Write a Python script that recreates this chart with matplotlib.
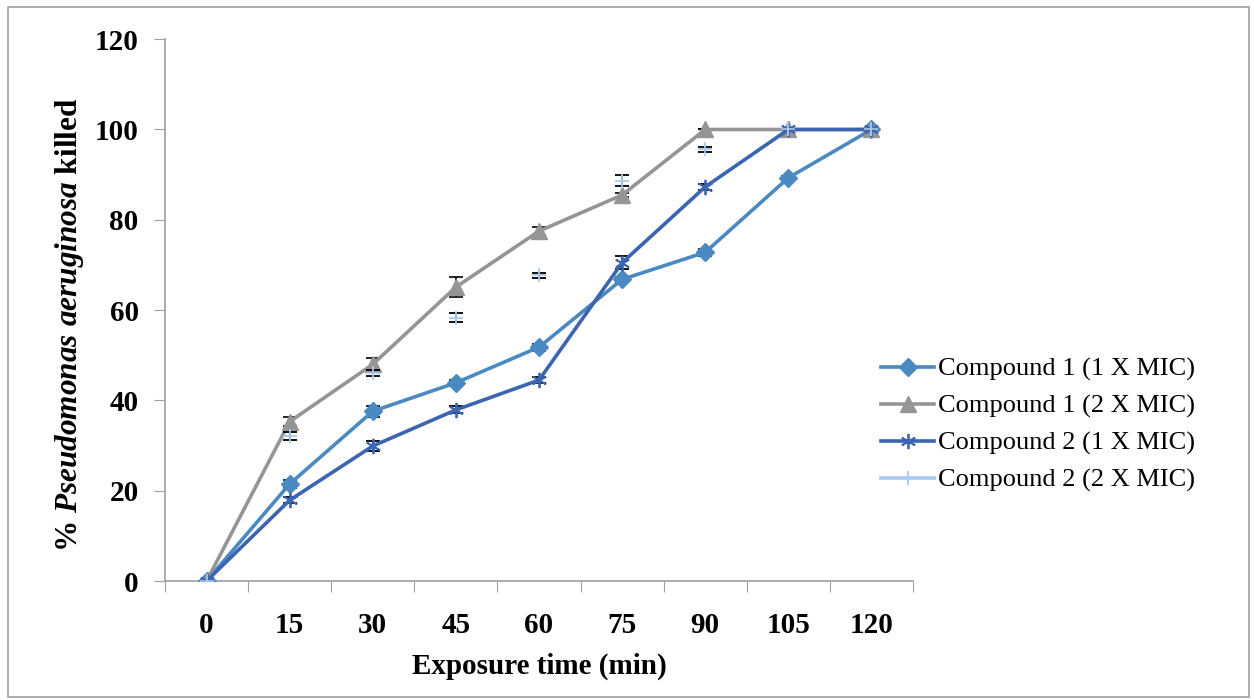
import matplotlib
matplotlib.use("Agg")
import matplotlib.pyplot as plt
from matplotlib.lines import Line2D
from matplotlib.patches import Rectangle
import numpy as np

plt.rcParams['font.family'] = ['Liberation Serif', 'DejaVu Serif']
plt.rcParams['mathtext.fontset'] = 'custom'
plt.rcParams['mathtext.it'] = 'Liberation Serif:italic:bold'
plt.rcParams['mathtext.rm'] = 'Liberation Serif:bold'

# datos
times = ['0', '15', '30', '45', '60', '75', '90', '105', '120']
c1_1x = [0, 21.5, 37.6, 43.9, 51.8, 66.8, 72.8, 89.3, 100]
c1_1x_err = [0, 0.8, 1.2, 0.6, 0.8, 0.5, 0.8, 0.5, 0]
c1_2x = [0, 35.3, 48.0, 65.1, 77.5, 85.5, 100, 100, 100]
c1_2x_err = [0, 1.0, 1.4, 2.3, 0.8, 0.5, 0, 0, 0]
c2_1x = [0, 17.9, 29.9, 37.9, 44.5, 70.5, 87.3, 100, 100]
c2_1x_err = [0, 0.6, 1.2, 0.8, 0.6, 1.5, 0.6, 0, 0]
c2_2x = [0, 32.2, 46.0, 58.3, 67.7, 88.7, 95.6, 100, 100]
c2_2x_err = [0, 0.9, 0.7, 1.0, 0.6, 1.3, 0.6, 0, 0]
labels = ['Compound 1 (1 X MIC)', 'Compound 1 (2 X MIC)',
          'Compound 2 (1 X MIC)', 'Compound 2 (2 X MIC)']

col1 = '#4a89c2'
col2 = '#959595'
col3 = '#3b65b1'
col4 = '#a8caf0'

fig = plt.figure(figsize=(12.54, 7), dpi=100)
fig.patches.append(Rectangle((0.006, 0.004), 0.99, 0.986, transform=fig.transFigure,
                             fill=False, edgecolor='#a0a0a0', linewidth=1.2))
ax = fig.add_axes([0.1316, 0.17, 0.5965, 0.774])
x = np.arange(len(times))

ax.errorbar(x, c1_1x, yerr=c1_1x_err, color=col1, ecolor='black', elinewidth=1.2,
            capsize=5, capthick=1.2, lw=2.6, marker='D', ms=9, zorder=3)
ax.errorbar(x, c1_2x, yerr=c1_2x_err, color=col2, ecolor='black', elinewidth=1.2,
            capsize=5, capthick=1.2, lw=2.6, marker='^', ms=11, zorder=3)
ax.errorbar(x, c2_1x, yerr=c2_1x_err, color=col3, ecolor='black', elinewidth=1.2,
            capsize=5, capthick=1.2, lw=2.6, marker=(6, 2, 0), ms=11, mew=1.3, zorder=3)
ax.errorbar(x, c2_2x, yerr=c2_2x_err, color=col4, ecolor='black', elinewidth=1.2,
            capsize=5, capthick=1.2, lw=0, marker='+', ms=10, mew=1.3, zorder=4)

ax.set_xlim(-0.5, len(times) - 0.5)
ax.set_ylim(0, 120)
ax.set_yticks(np.arange(0, 121, 20))
ax.set_xticks(np.arange(-0.5, len(times), 1))
ax.set_xticklabels([])
ax.set_xticks(x, minor=True)
ax.set_xticklabels(times, minor=True)
ax.tick_params(axis='x', which='major', length=8, color='#a0a0a0', direction='out')
ax.tick_params(axis='x', which='minor', length=0, pad=22)
ax.tick_params(axis='y', length=8, color='#a0a0a0', direction='out', pad=11)
for lab in ax.get_xticklabels(minor=True) + ax.get_yticklabels():
    lab.set_fontsize(21)
    lab.set_fontweight('bold')

for s in ['top', 'right']:
    ax.spines[s].set_visible(False)
for s in ['left', 'bottom']:
    ax.spines[s].set_color('#a0a0a0')
    ax.spines[s].set_linewidth(1.2)

ax.set_xlabel('Exposure time (min)', fontsize=21, fontweight='bold', labelpad=10)
ax.set_ylabel(r'% $\mathit{Pseudomonas\ aeruginosa}$ killed', fontsize=22.5,
              fontweight='bold')
ax.yaxis.set_label_coords(-0.106, 0.472)

handles = [Line2D([], [], color=col1, lw=2.6, marker='D', ms=9),
           Line2D([], [], color=col2, lw=2.6, marker='^', ms=11),
           Line2D([], [], color=col3, lw=2.6, marker=(6, 2, 0), ms=11, mew=1.3),
           Line2D([], [], color=col4, lw=2.6, marker='+', ms=10, mew=1.3)]
fig.legend(handles, labels, loc='center left', bbox_to_anchor=(0.684, 0.393),
           frameon=False, fontsize=19, handlelength=2.0, handletextpad=0.15,
           labelspacing=0.5)

fig.savefig('out.png', dpi=100)
